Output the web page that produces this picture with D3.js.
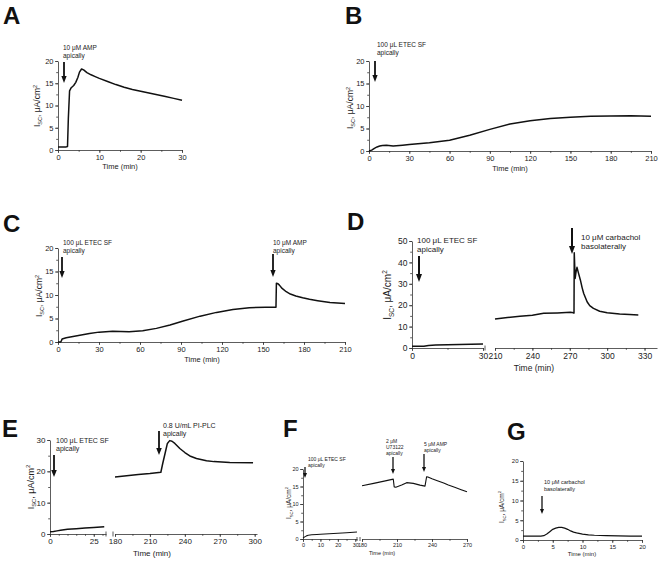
<!DOCTYPE html>
<html><head><meta charset="utf-8">
<script src="https://cdn.jsdelivr.net/npm/d3@7"></script>
<style>
body{margin:0;background:#fff}
text{font-family:"Liberation Sans",Arial,Helvetica,sans-serif;fill:#222}
.axis path,.axis line{stroke:#333;stroke-width:0.8}
.axis text{fill:#222}
</style>
</head><body>
<svg id="c" width="664" height="575"></svg>
<script>
// ---------- DATA ----------
const aTime = [0,1,2,2.3,2.5,2.8,3.2,3.8,4.3,4.8,5.2,5.7,6.2,7,8,9,10,12,14,16,18,20,22,24,26,28,30];
const aIsc  = [0.7,0.7,0.7,0.8,7,13.3,14,14.5,15.2,16.3,17.5,18.2,18.0,17.4,16.9,16.5,16.1,15.4,14.7,14.1,13.6,13.2,12.8,12.4,12.0,11.6,11.2];

const bTime = [0,2,4,6,8,10,13,18,25,30,45,60,75,90,105,120,135,150,165,180,195,210];
const bIsc  = [0,0.2,0.6,0.9,1.1,1.2,1.26,1.1,1.3,1.45,1.85,2.4,3.5,4.8,6.0,6.7,7.2,7.5,7.7,7.8,7.85,7.7];

const cTime = [0,2,2.5,3,6,13,23,30,40,52,62,72,82,91,104,116,128,140,152,159.5,159.8,161,162,164,167,170,174,179,184,190,199,210];
const cIsc  = [0,0,0.3,0.65,0.9,1.3,1.8,2.1,2.3,2.2,2.4,2.9,3.6,4.4,5.5,6.3,6.9,7.3,7.4,7.4,12.5,12.4,12.1,11.4,10.7,10.2,9.8,9.4,9.1,8.8,8.4,8.2];

const dLeftTime  = [0,5,7,10,15,20,25,30];
const dLeftIsc   = [0.8,0.8,1.2,1.4,1.5,1.6,1.8,1.9];
const dRightTime = [210,220,230,240,249,260,270.5,273,273.4,273.6,274.3,275,275.8,277,278.5,280,281.2,283.9,286,289,294,300,310,318,325];
const dRightIsc  = [13.5,14.2,14.8,15.3,16.2,16.4,16.7,16.5,16.3,44.5,32.5,35.5,37.7,35,31.8,28,25.5,21.6,19.8,18.5,17.2,16.5,15.9,15.6,15.4];

const eLeftTime  = [0,2,4,6,10,15,20,25,31];
const eLeftIsc   = [0.7,0.8,1.0,1.2,1.5,1.7,1.9,2.1,2.3];
const eRightTime = [180,190,200,210,219.4,221,223,225,227,229,231.4,235.7,240,244.3,250,258.6,265,278.6,298.6];
const eRightIsc  = [18.2,18.6,19.0,19.3,19.7,22.5,25.7,28.9,29.8,29.6,28.9,27.3,26.0,24.9,24.1,23.4,23.1,22.8,22.7];

const fLeftTime  = [0,1,2,3,5,8,10,15,20,25,31];
const fLeftIsc   = [0.3,0.6,0.9,1.05,1.2,1.3,1.35,1.5,1.65,1.8,2.0];
const fRightTime = [180,190,200,206.8,207.6,209,214,218.3,224,229.7,234,235.4,236.5,240,244,250,254,260,265,270];
const fRightIsc  = [15.2,15.9,16.6,17.1,14.9,14.8,15.4,16.1,15.9,15.4,15.1,17.8,17.7,17.2,16.7,16.0,15.4,14.7,14.1,13.5];

const gTime = [0,1,2,3,3.5,4,4.5,5,5.5,6,6.5,7,7.5,8,8.5,9,10,11,12,14,16,18,20];
const gIsc  = [1.0,1.0,1.0,1.0,1.1,1.5,2.1,2.7,3.0,3.2,3.2,3.0,2.7,2.3,2.0,1.8,1.5,1.3,1.2,1.1,1.05,1.0,1.0];

// tick labels
const ticks30  = [0,10,20,30];
const ticks210 = [0,30,60,90,120,150,180,210];
const ticksY20 = [0,5,10,15,20];
const ticksY50 = [0,10,20,30,40,50];
const ticksY30 = [0,10,20,30];
const ticksD2  = [210,240,270,300,330];
const ticksE1  = [0,25];
const ticksE2  = [180,210,240,270,300];
const ticksF1  = [0,10,20,30];
const ticksF2  = [180,210,240,270];
const ticksG   = [0,5,10,15,20];

// ---------- DRAWING ----------
const svg = d3.select("#c");
const range = (a,b,s)=>d3.range(a,b+1e-9,s);

function xAxis(x, y0, major, minor, fs){
  const g = svg.append("g").attr("class","axis").attr("transform",`translate(0,${y0})`);
  g.call(d3.axisBottom(x).tickValues(minor).tickSize(1.8).tickSizeOuter(0).tickFormat(""));
  const g2 = svg.append("g").attr("class","axis").attr("transform",`translate(0,${y0})`);
  g2.call(d3.axisBottom(x).tickValues(major).tickSize(3).tickPadding(1.5).tickSizeOuter(0).tickFormat(d3.format("d")));
  g2.select(".domain").remove();
  g2.selectAll("text").attr("font-size",fs).attr("font-family",null);
}
function yAxis(y, x0, major, minor, fs){
  const g = svg.append("g").attr("class","axis").attr("transform",`translate(${x0},0)`);
  g.call(d3.axisLeft(y).tickValues(minor).tickSize(1.8).tickSizeOuter(0).tickFormat(""));
  const g2 = svg.append("g").attr("class","axis").attr("transform",`translate(${x0},0)`);
  g2.call(d3.axisLeft(y).tickValues(major).tickSize(3).tickPadding(1.5).tickSizeOuter(0).tickFormat(d3.format("d")));
  g2.select(".domain").remove();
  g2.selectAll("text").attr("font-size",fs).attr("font-family",null);
}
function trace(x,y,ts,vs,w){
  svg.append("path").datum(ts.map((t,i)=>[t,vs[i]]))
    .attr("fill","none").attr("stroke","#111").attr("stroke-width",w||1.5)
    .attr("stroke-linejoin","round")
    .attr("d",d3.line().x(d=>x(d[0])).y(d=>y(d[1])));
}
function letter(ch,x,y){
  svg.append("text").attr("x",x).attr("y",y).attr("font-size",24).attr("font-weight","bold").text(ch).style("fill","#111");
}
function ylabel(x,y,fs){
  const t = svg.append("text").attr("transform",`translate(${x},${y}) rotate(-90)`)
    .attr("text-anchor","middle").attr("font-size",fs);
  t.append("tspan").text("I");
  t.append("tspan").attr("font-size",fs*0.65).attr("dy",fs*0.25).text("SC");
  t.append("tspan").attr("dy",-fs*0.25).text(", \u03BCA/cm");
  t.append("tspan").attr("font-size",fs*0.65).attr("dy",-fs*0.4).text("2");
}
function xlabel(x,y,fs){
  svg.append("text").attr("x",x).attr("y",y).attr("text-anchor","middle").attr("font-size",fs).text("Time (min)");
}
function note(x,y,lines,fs,lh){
  lines.forEach((s,i)=>svg.append("text").attr("x",x).attr("y",y+i*lh).attr("font-size",fs).text(s));
}
function arrow(x,y1,y2,w,hw,hh){
  svg.append("line").attr("x1",x).attr("x2",x).attr("y1",y1).attr("y2",y2-hh+1)
    .attr("stroke","#111").attr("stroke-width",w);
  svg.append("path").attr("d",`M${x-hw},${y2-hh}L${x+hw},${y2-hh}L${x},${y2}Z`).attr("fill","#111");
}
function brk(x,y0,h){
  svg.append("line").attr("x1",x).attr("x2",x).attr("y1",y0-h).attr("y2",y0+h).attr("stroke","#333").attr("stroke-width",0.8);
}

// ----- Panel A -----
{
  const x = d3.scaleLinear().domain([0,30]).range([58,182]);
  const y = d3.scaleLinear().domain([0,20]).range([150,61]);
  xAxis(x,150,ticks30,range(0,30,5),7.5);
  yAxis(y,58,ticksY20,range(0,20,2.5),7.5);
  trace(x,y,aTime,aIsc);
  letter("A",3,24);
  ylabel(40,106,8.5);
  xlabel(120,169,7.5);
  note(63,49.5,["10 \u03BCM AMP","apically"],6.5,8);
  arrow(64,62,83,1.8,2.6,7);
}
// ----- Panel B -----
{
  const x = d3.scaleLinear().domain([0,210]).range([369,651]);
  const y = d3.scaleLinear().domain([0,20]).range([151,61]);
  xAxis(x,151,ticks210,range(0,210,15),7.5);
  yAxis(y,369,ticksY20,range(0,20,2.5),7.5);
  trace(x,y,bTime,bIsc);
  letter("B",345,24);
  ylabel(353,108,8.5);
  xlabel(510,171,7.5);
  note(377,47,["100 \u03BCL ETEC SF","apically"],6.5,8);
  arrow(375,61,82,1.8,2.6,7);
}
// ----- Panel C -----
{
  const x = d3.scaleLinear().domain([0,210]).range([58,345]);
  const y = d3.scaleLinear().domain([0,20]).range([342,248]);
  xAxis(x,342,ticks210,range(0,210,15),7.5);
  yAxis(y,58,ticksY20,range(0,20,2.5),7.5);
  trace(x,y,cTime,cIsc);
  letter("C",3,232);
  ylabel(42,296,8.5);
  xlabel(202,362,7.5);
  note(63,245,["100 \u03BCL ETEC SF","apically"],6.5,8);
  arrow(62,257,278,1.8,2.6,7);
  note(273,245,["10 \u03BCM AMP","apically"],6.5,8);
  arrow(273,254,277,1.8,2.6,7);
}
// ----- Panel D -----
{
  const x1 = d3.scaleLinear().domain([0,30]).range([412,483]);
  const x2 = d3.scaleLinear().domain([210,340]).range([495,657]);
  const y = d3.scaleLinear().domain([0,50]).range([348,241]);
  xAxis(x1,348,[0,30],range(0,30,15),8.5);
  xAxis(x2,348,ticksD2,range(210,330,15),8.5);
  brk(x1(30)+2,348,2.5);
  yAxis(y,412,ticksY50,range(0,50,5),8.5);
  trace(x1,y,dLeftTime,dLeftIsc);
  trace(x2,y,dRightTime,dRightIsc);
  letter("D",347,230);
  ylabel(391,295,10);
  xlabel(534,371,8.5);
  note(417,243,["100 \u03BCL ETEC SF","apically"],8,9);
  arrow(419,256,282,2,3,8);
  note(581,240,["10 \u03BCM carbachol","basolaterally"],8,9);
  arrow(572,228,254,2,3,8);
}
// ----- Panel E -----
{
  const x1 = d3.scaleLinear().domain([0,32]).range([50,106]);
  const x2 = d3.scaleLinear().domain([180,302]).range([115,257]);
  const y = d3.scaleLinear().domain([0,30]).range([534,440]);
  xAxis(x1,534,ticksE1,range(0,30,5),8);
  xAxis(x2,534,ticksE2,range(180,300,15),8);
  brk(106,534,2.5); brk(113,534,2.5);
  yAxis(y,50,ticksY30,range(0,30,5),8);
  trace(x1,y,eLeftTime,eLeftIsc);
  trace(x2,y,eRightTime,eRightIsc);
  letter("E",2,437);
  ylabel(34,487,9);
  xlabel(152,556,8);
  note(56,443,["100 \u03BCL ETEC SF","apically"],7,8);
  arrow(54,455,477,1.8,2.8,7);
  note(163,428,["0.8 U/mL PI-PLC","apically"],7,8);
  arrow(159,431,455,1.8,2.8,7);
}
// ----- Panel F -----
{
  const x1 = d3.scaleLinear().domain([0,31]).range([303,357]);
  const x2 = d3.scaleLinear().domain([180,270]).range([362,467]);
  const y = d3.scaleLinear().domain([0,20]).range([539,469]);
  xAxis(x1,539,ticksF1,range(0,30,5),5.5);
  xAxis(x2,539,ticksF2,range(180,270,15),5.5);
  brk(357,539,2); brk(360,539,2);
  yAxis(y,303,ticksY20,range(0,20,2.5),5.5);
  trace(x1,y,fLeftTime,fLeftIsc,1.1);
  trace(x2,y,fRightTime,fRightIsc,1.1);
  letter("F",283,437);
  ylabel(291,503,6.5);
  xlabel(382,555,5.5);
  note(308,461,["100 \u03BCL ETEC SF","apically"],5,6);
  arrow(305,467,478,1.3,2,5);
  note(386,443,["2 \u03BCM","U73122","apically"],5,6);
  arrow(393,457,474,1.3,2,5);
  note(424,446,["5 \u03BCM AMP","apically"],5,6);
  arrow(424,454,472,1.3,2,5);
}
// ----- Panel G -----
{
  const x = d3.scaleLinear().domain([0,20]).range([523,642]);
  const y = d3.scaleLinear().domain([0,20]).range([540,461]);
  xAxis(x,540,ticksG,range(0,20,2.5),6);
  yAxis(y,523,ticksY20,range(0,20,2.5),6);
  trace(x,y,gTime,gIsc,1.2);
  letter("G",507,440);
  ylabel(504,507,6.5);
  xlabel(582,556,6);
  note(544,484,["10 \u03BCM carbachol","basolaterally"],5.5,7);
  arrow(542,496,514,1.3,2,5);
}
</script>
</body></html>
